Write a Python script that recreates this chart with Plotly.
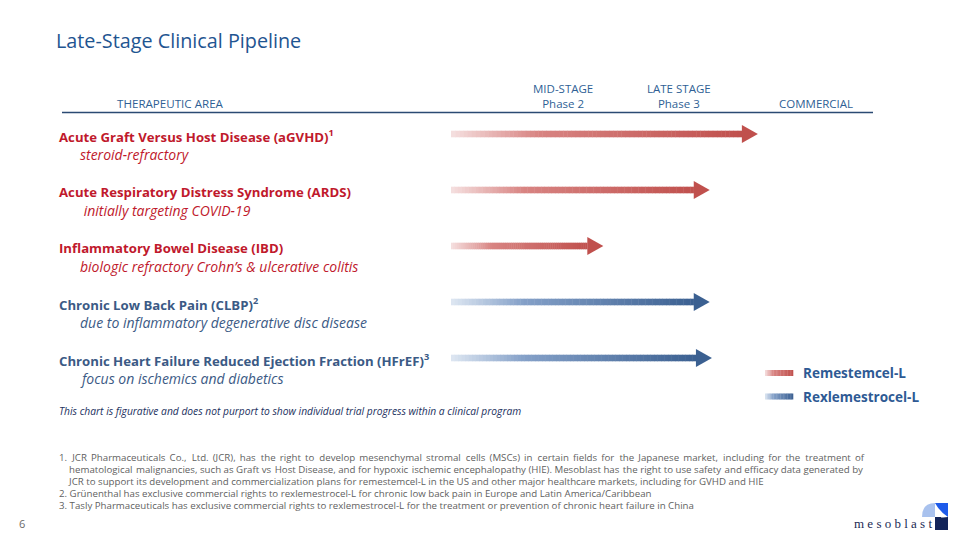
import plotly.graph_objects as go

# ---------------- data ----------------
title = "Late-Stage Clinical Pipeline"
stage_labels = ["MID-STAGE<br>Phase 2", "LATE STAGE<br>Phase 3", "COMMERCIAL"]
stage_positions = [1.0, 2.04, 3.26]          # progress units along the pipeline axis

programs = [
    "Acute Graft Versus Host Disease (aGVHD)<sup>1</sup>",
    "Acute Respiratory Distress Syndrome (ARDS)",
    "Inflammatory Bowel Disease (IBD)",
    "Chronic Low Back Pain (CLBP)<sup>2</sup>",
    "Chronic Heart Failure Reduced Ejection Fraction (HFrEF)<sup>3</sup>",
]
indications = [
    "steroid-refractory",
    " initially targeting COVID-19",
    "biologic refractory Crohn’s &amp; ulcerative colitis",
    "due to inflammatory degenerative disc disease",
    "focus on ischemics and diabetics",
]
products = ["Remestemcel-L", "Remestemcel-L", "Remestemcel-L",
            "Rexlemestrocel-L", "Rexlemestrocel-L"]
progress = [2.74, 2.31, 1.36, 2.31, 2.33]     # arrow reach (progress units)

product_names = ["Remestemcel-L", "Rexlemestrocel-L"]

footnotes = [
    "1. JCR Pharmaceuticals Co., Ltd. (JCR), has the right to develop mesenchymal stromal cells (MSCs) in certain fields for the Japanese market, including for the treatment of",
    "    hematological malignancies, such as Graft vs Host Disease, and for hypoxic ischemic encephalopathy (HIE). Mesoblast has the right to use safety and efficacy data generated by",
    "    JCR to support its development and commercialization plans for remestemcel-L in the US and other major healthcare markets, including for GVHD and HIE",
    "2. Grünenthal has exclusive commercial rights to rexlemestrocel-L for chronic low back pain in Europe and Latin America/Caribbean",
    "3. Tasly Pharmaceuticals has exclusive commercial rights to rexlemestrocel-L for the treatment or prevention of chronic heart failure in China",
]
footnote_justify = ["wide", "narrow", None, None, None]
disclaimer = "This chart is figurative and does not purport to show individual trial progress within a clinical program"
page_number = "6"

# ---------------- styling ----------------
W, H = 960, 540
FONT = "Open Sans"
PX_PER_UNIT = 112.0
ORIGIN_PX = 451.0
ROW0_PX, ROW_STEP = 134.0, 56.0

GRAD = {
    "Remestemcel-L": [(245, 224, 224), (216, 132, 130), (192, 80, 77)],
    "Rexlemestrocel-L": [(222, 231, 242), (132, 160, 200), (59, 96, 145)],
}
LABEL_COLOR = {"Remestemcel-L": "#C0192C", "Rexlemestrocel-L": "#3B5A85"}


def grad_color(prod, t):
    c0, c1, c2 = GRAD[prod]
    if t < 0.3:
        a, b, u = c0, c1, t / 0.3
    else:
        a, b, u = c1, c2, (t - 0.3) / 0.7
    r = [round(a[i] + (b[i] - a[i]) * u) for i in range(3)]
    return f"rgb({r[0]},{r[1]},{r[2]})"


def px(x):
    return x / W


def py(y):
    return 1 - y / H


def justify(txt, mode):
    if mode is None:
        return txt
    lead = ""
    while txt.startswith(" "):
        lead += "&nbsp;"
        txt = txt[1:]
    words = txt.split(" ")
    out = words[0]
    for n, w in enumerate(words[1:]):
        sep = " "
        if mode == "wide":
            sep += "\u2009" + ("\u200a" if n % 3 == 0 else "")
        elif mode == "narrow" and n % 5 == 0:
            sep += "\u200a"
        out += sep + w
    return lead + out


fig = go.Figure()
shapes = []
annotations = []

# axis ranges so that progress units map onto the page
x_range = [-ORIGIN_PX / PX_PER_UNIT, (W - ORIGIN_PX) / PX_PER_UNIT]
y_range = [(H - ROW0_PX) / ROW_STEP, -ROW0_PX / ROW_STEP]

head_len = 16 / PX_PER_UNIT
head_half = 9 / ROW_STEP
shaft_half = 3.3 / ROW_STEP
NSEG = 70

for i, (prog, prod) in enumerate(zip(progress, products)):
    shaft_end = prog - head_len
    for k in range(NSEG):
        x0 = shaft_end * k / NSEG
        x1 = shaft_end * (k + 1) / NSEG + 0.004
        shapes.append(dict(type="rect", xref="x", yref="y", x0=x0, x1=min(x1, shaft_end + 0.002),
                           y0=i - shaft_half, y1=i + shaft_half,
                           fillcolor=grad_color(prod, (k + 0.5) / NSEG), line=dict(width=0), layer="above"))
    shapes.append(dict(type="path", xref="x", yref="y",
                       path=f"M {shaft_end},{i - head_half} L {prog},{i} L {shaft_end},{i + head_half} Z",
                       fillcolor=grad_color(prod, 1.0), line=dict(width=0), layer="above"))
    # invisible point at the tip for hover
    fig.add_trace(go.Scatter(x=[prog], y=[i], mode="markers", marker=dict(size=1, opacity=0),
                             name=prod, showlegend=False, hoverinfo="text",
                             hovertext=f"{programs[i]}: {prod}"))
    color = LABEL_COLOR[prod]
    annotations.append(dict(x=px(57), y=i, xref="paper", yref="y", yshift=-2,
                            text=f"<b>{programs[i]}</b>", showarrow=False, xanchor="left",
                            yanchor="middle", font=dict(family=FONT, size=13.2, color=color)))
    annotations.append(dict(x=px(78), y=i, xref="paper", yref="y", yshift=-20,
                            text=f"<i>{indications[i]}</i>", showarrow=False, xanchor="left",
                            yanchor="middle", font=dict(family=FONT, size=14, color=color)))

# header
for lab, pos in zip(stage_labels, stage_positions):
    yy = 96 if "<br>" in lab else 103
    annotations.append(dict(x=pos, y=py(yy), xref="x", yref="paper", text=lab, showarrow=False,
                            xanchor="center", yanchor="middle",
                            font=dict(family=FONT, size=11.5, color="#2F5F95")))
annotations.append(dict(x=px(170), y=py(103), xref="paper", yref="paper", text="THERAPEUTIC AREA",
                        showarrow=False, xanchor="center", yanchor="middle",
                        font=dict(family=FONT, size=11.6, color="#2F5F95")))
shapes.append(dict(type="line", xref="paper", yref="paper", x0=px(62), x1=px(873), y0=py(112.5), y1=py(112.5),
                   line=dict(color="#2B4A73", width=1.5)))

# title
annotations.append(dict(x=px(54), y=py(40), xref="paper", yref="paper", text=title, showarrow=False,
                        xanchor="left", yanchor="middle",
                        font=dict(family=FONT, size=19.8, color="#1F5591")))

# disclaimer
annotations.append(dict(x=px(57), y=py(411), xref="paper", yref="paper", text=f"<i>{disclaimer}</i>",
                        showarrow=False, xanchor="left", yanchor="middle",
                        font=dict(family=FONT, size=10.25, color="#22305E")))

# product key
for j, name in enumerate(product_names):
    yc = 373 + 23.5 * j
    n = 20
    for k in range(n):
        shapes.append(dict(type="rect", xref="paper", yref="paper",
                           x0=px(765 + 28 * k / n), x1=px(765 + 28 * (k + 1) / n + 0.3),
                           y0=py(yc + 3), y1=py(yc - 3),
                           fillcolor=grad_color(name, (k + 0.5) / n), line=dict(width=0)))
    annotations.append(dict(x=px(801), y=py(yc), xref="paper", yref="paper", text=f"<b>{name}</b>",
                            showarrow=False, xanchor="left", yanchor="middle",
                            font=dict(family=FONT, size=13.5, color="#2E5A94")))

# footnotes
for j, (line, mode) in enumerate(zip(footnotes, footnote_justify)):
    annotations.append(dict(x=px(57), y=py(457 + 12.2 * j), xref="paper", yref="paper",
                            text=justify(line, mode), showarrow=False, xanchor="left", yanchor="middle",
                            font=dict(family=FONT, size=9.7, color="#5F5F5F")))

annotations.append(dict(x=px(22), y=py(523), xref="paper", yref="paper", text=page_number,
                        showarrow=False, xanchor="center", yanchor="middle",
                        font=dict(family=FONT, size=11, color="#6A6A6A")))

# logo
annotations.append(dict(x=px(934), y=py(523), xref="paper", yref="paper",
                        text="m e s o b l a s t", showarrow=False, xanchor="right", yanchor="middle",
                        font=dict(family="Liberation Serif", size=13, color="#1B2A55")))
# light quarter circle
shapes.append(dict(type="path", xref="paper", yref="paper",
                   path=(f"M {px(922)},{py(517)} L {px(935)},{py(517)} L {px(935)},{py(503)} "
                         f"Q {px(922)},{py(503)} {px(922)},{py(517)} Z"),
                   fillcolor="#A9C2EE", line=dict(width=0)))
# bright blue block
shapes.append(dict(type="path", xref="paper", yref="paper",
                   path=(f"M {px(935)},{py(503)} L {px(948)},{py(503)} L {px(948)},{py(517)} "
                         f"Q {px(940)},{py(512)} {px(935)},{py(503)} Z"),
                   fillcolor="#1E5BEA", line=dict(width=0)))
# navy block
shapes.append(dict(type="path", xref="paper", yref="paper",
                   path=(f"M {px(935)},{py(530)} L {px(948)},{py(530)} L {px(948)},{py(517)} "
                         f"Q {px(937)},{py(518)} {px(935)},{py(517)} Z"),
                   fillcolor="#12245A", line=dict(width=0)))
shapes.append(dict(type="rect", xref="paper", yref="paper", x0=px(935), x1=px(941), y0=py(530), y1=py(517),
                   fillcolor="#12245A", line=dict(width=0)))

fig.update_layout(
    width=W, height=H, margin=dict(l=0, r=0, t=0, b=0),
    paper_bgcolor="white", plot_bgcolor="white",
    xaxis=dict(range=x_range, visible=False, fixedrange=True),
    yaxis=dict(range=y_range, visible=False, fixedrange=True),
    shapes=shapes, annotations=annotations, showlegend=False,
)
fig.write_html("out.html", config={"displayModeBar": False},
               post_script="document.body.style.margin='0';")
